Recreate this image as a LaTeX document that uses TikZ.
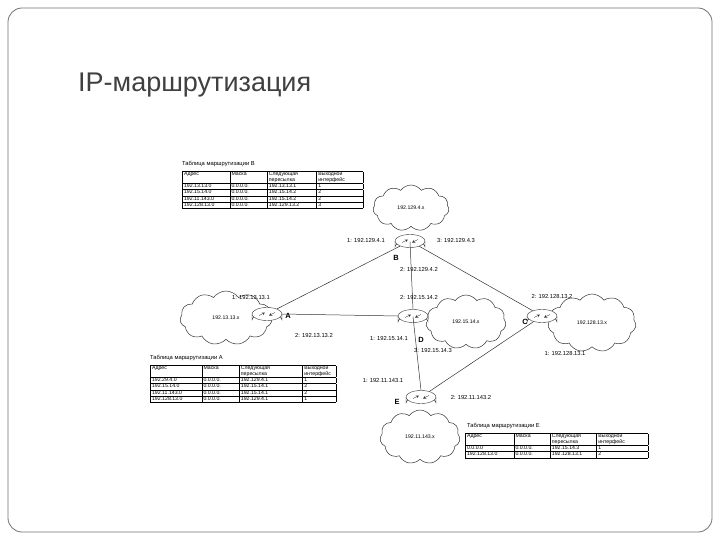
\documentclass[tikz,border=0pt]{standalone}
\usepackage{fontspec}
\setmainfont{Liberation Sans}
\usepackage{array}
\usetikzlibrary{shapes.symbols,shapes.geometric}
\newcommand{\tb}{\fontsize{5.2}{5.8}\selectfont}
\newcolumntype{P}[1]{>{\raggedright\arraybackslash}p{#1}}
\setlength{\tabcolsep}{1.5pt}
\begin{document}
\begin{tikzpicture}[x=1pt,y=-1pt,
  cl/.style={cloud,cloud puffs=11,cloud puff arc=110,aspect=1.7,draw=black!80,fill=white,line width=0.5pt,font=\tb},
  rt/.style={ellipse,draw=black!80,fill=white,minimum width=30pt,minimum height=13pt,inner sep=0pt},
  ln/.style={draw=black!80,line width=0.5pt},
  lb/.style={font=\fontsize{5.8}{6}\selectfont,inner sep=1pt},
  big/.style={font=\fontsize{7.5}{8}\selectfont\bfseries,inner sep=0pt},
  ttl/.style={font=\fontsize{5.8}{6}\selectfont,anchor=west,inner sep=0pt},
  tab/.style={anchor=north west,inner sep=0pt,font=\tb}]
\useasboundingbox (0,0) rectangle (720,540);
\fill[white] (0,0) rectangle (720,540);
\draw[black!55,line width=0.8pt,rounded corners=14pt] (8,8) rectangle (712,532);
\node[anchor=west,inner sep=0pt,text=black!75,font=\fontsize{27}{29}\selectfont] (title) at (78,85) {IP-маршрутизация};
% clouds
\node[cl,minimum width=76pt,minimum height=46pt] (cB) at (411,208) {192.129.4.x};
\node[cl,minimum width=92pt,minimum height=54pt] (cA) at (226,318) {192.13.13.x};
\node[cl,minimum width=80pt,minimum height=54pt] (cD) at (466,322) {192.15.14.x};
\node[cl,minimum width=88pt,minimum height=58pt] (cC) at (592,323) {192.128.13.x};
\node[cl,minimum width=80pt,minimum height=54pt] (cE) at (420,437) {192.11.143.x};
% routers
\foreach \n/\x/\y in {B/410/241,A/267/314,D/413/316,C/542/316,E/421/397}{
  \fill[white] (\x-15,\y) rectangle (\x+15,\y+6);
  \draw[black!80] (\x-15,\y) -- (\x-15,\y+6) arc[start angle=180,end angle=360,x radius=15,y radius=6.5] -- (\x+15,\y);
  \node[rt] (r\n) at (\x,\y) {};
  \draw[black!80,->,>=stealth] (\x-8,\y+1.5) -- (\x-2,\y-1.5);
  \draw[black!80,->,>=stealth] (\x+8,\y-1.5) -- (\x+2,\y+1.5);
}
% links
\draw[ln] (rA) -- (rB);
\draw[ln] ([yshift=6pt]rB.south) -- (rD.north);
\draw[ln] (rB) -- (rC);
\draw[ln] (rA.east) -- (rD.west);
\draw[ln] ([yshift=6pt]rD.south) -- (rE.north);
\draw[ln] (rE) -- (rC);
% router letters
\node[big] (lB) at (396,258) {B};
\node[big] (lA) at (288,316) {A};
\node[big] (lD) at (421,340) {D};
\node[big] (lC) at (525,322) {C};
\node[big] (lE) at (397,402) {E};
% interface labels
\node[lb] (i1) at (366,241) {1: 192.129.4.1};
\node[lb] (i2) at (456,241) {3: 192.129.4.3};
\node[lb] (i3) at (419,270) {2: 192.129.4.2};
\node[lb] (i4) at (419,298) {2: 192.15.14.2};
\node[lb] (i5) at (251,298) {1: 192.13.13.1};
\node[lb] (i6) at (314,336) {2: 192.13.13.2};
\node[lb] (i7) at (389,339) {1: 192.15.14.1};
\node[lb] (i8) at (433,351) {3: 192.15.14.3};
\node[lb] (i9) at (552,297) {2: 192.128.13.2};
\node[lb] (i10) at (565,354) {1: 192.128.13.1};
\node[lb] (i11) at (383,381) {1: 192.11.143.1};
\node[lb] (i12) at (471,398) {2: 192.11.143.2};
% table B
\node[ttl] (tB) at (182,164) {Таблица маршрутизации  B};
\node[tab] (TB) at (182,171) {\begin{tabular}{|P{44pt}|P{34pt}|P{46pt}|P{43pt}|}\hline
Адрес & Маска & Следующая пересылка & Выходной интерфейс\\\hline
192.13.13.0 & 0.0.0.0. & 192.13.13.1 & 1\\\hline
192.15.14.0 & 0.0.0.0. & 192.15.14.2 & 2\\\hline
192.11.143.0 & 0.0.0.0. & 192.15.14.2 & 2\\\hline
192.128.13.0 & 0.0.0.0. & 192.129.13.2 & 3\\\hline
\end{tabular}};
% table A
\node[ttl] (tA) at (150,358) {Таблица маршрутизации  A};
\node[tab] (TA) at (150,365) {\begin{tabular}{|P{48pt}|P{34pt}|P{60pt}|P{30pt}|}\hline
Адрес & Маска & Следующая\newline пересылка & Выходной интерфейс\\\hline
192.29.4.0 & 0.0.0.0. & 192.129.4.1 & 1\\\hline
192.15.14.0 & 0.0.0.0. & 192.15.14.1 & 2\\\hline
192.11.143.0 & 0.0.0.0. & 192.15.14.1 & 2\\\hline
192.128.13.0 & 0.0.0.0. & 192.129.4.1 & 1\\\hline
\end{tabular}};
% table E
\node[ttl] (tE) at (467,426) {Таблица маршрутизации  E};
\node[tab] (TE) at (465,433) {\begin{tabular}{|P{45pt}|P{33pt}|P{43pt}|P{48pt}|}\hline
Адрес & Маска & Следующая пересылка & Выходной интерфейс\\\hline
0.0.0.0 & 0.0.0.0. & 192.15.14.3 & 1\\\hline
192.128.13.0 & 0.0.0.0. & 192.128.13.1 & 2\\\hline
\end{tabular}};
\end{tikzpicture}
\end{document}
